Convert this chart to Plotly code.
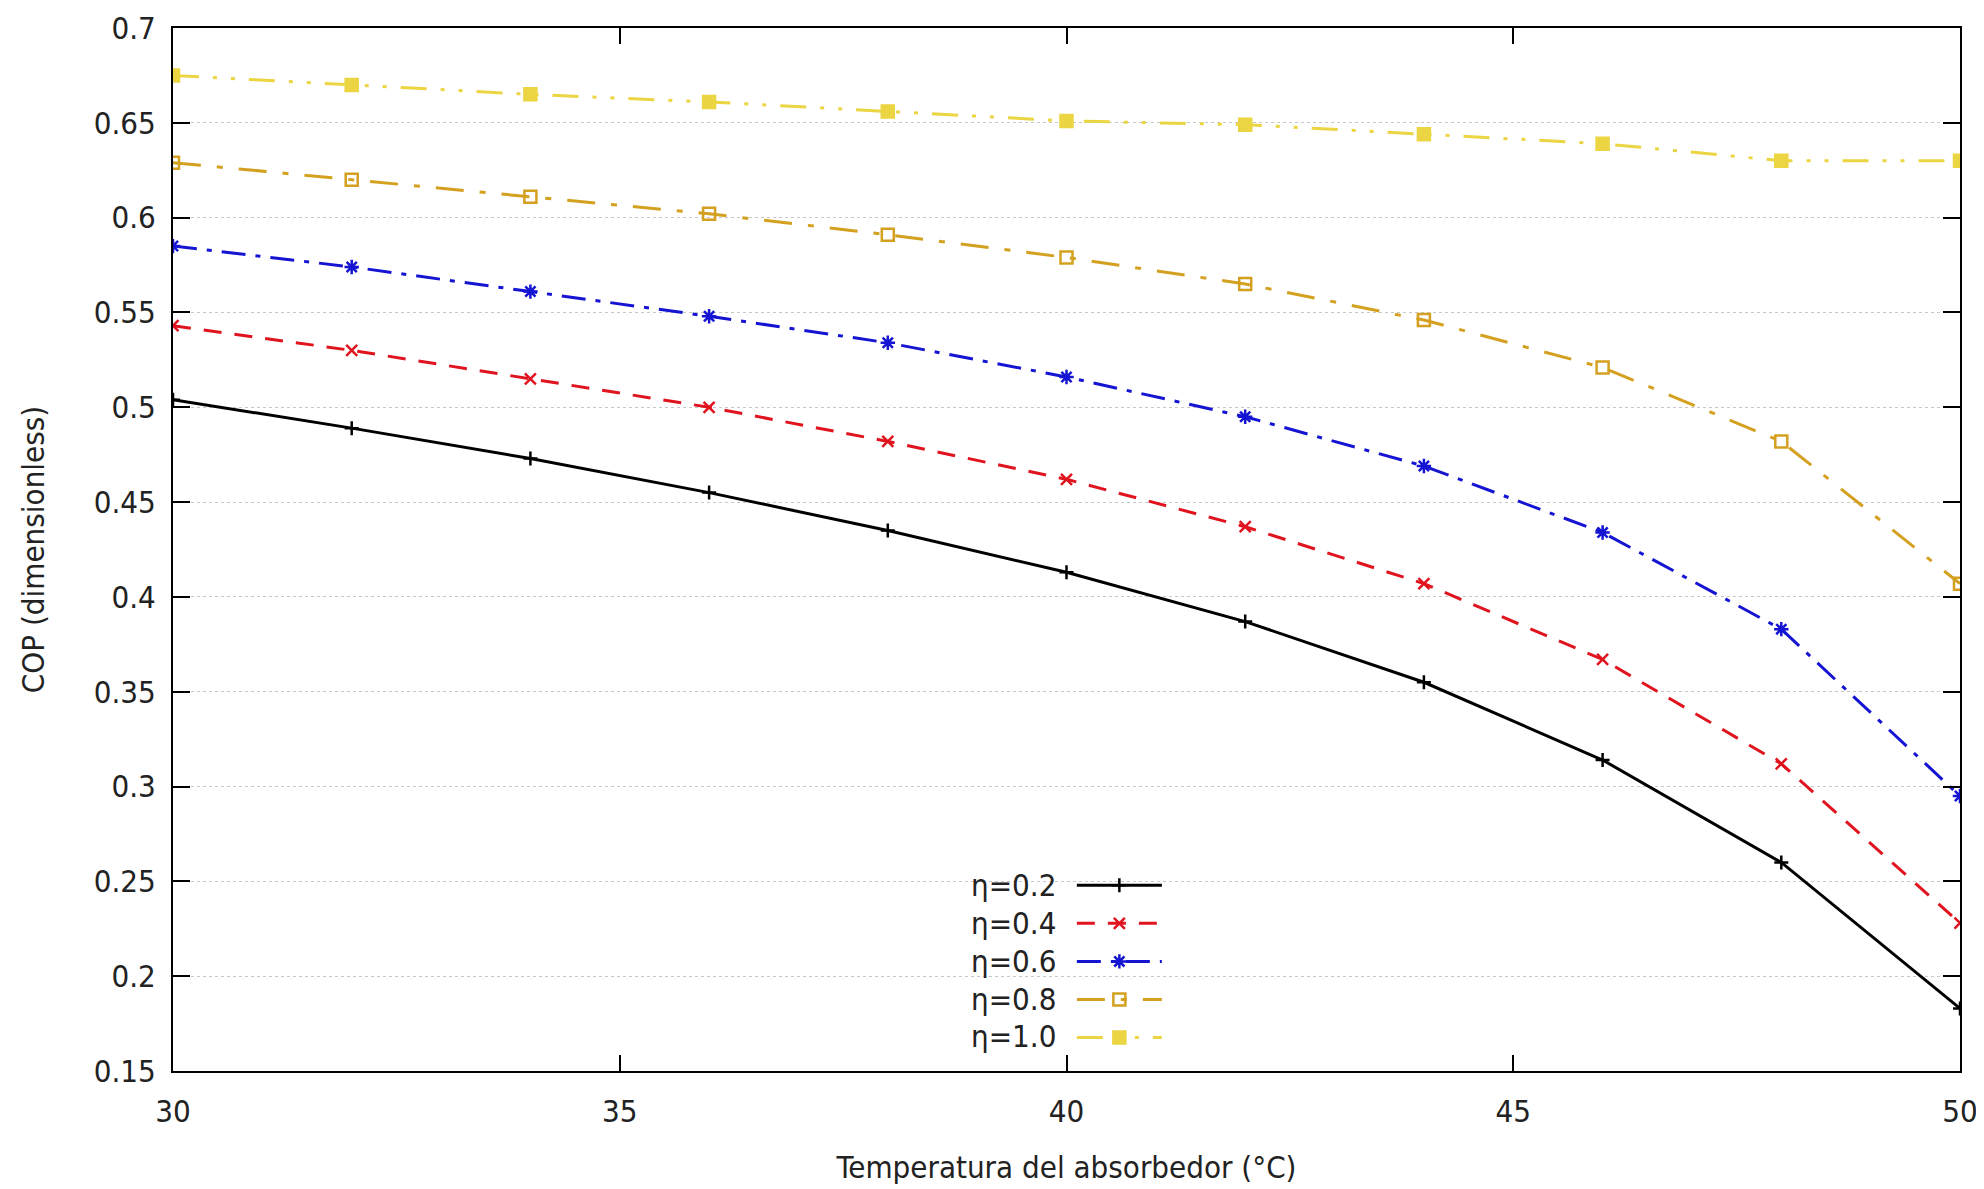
import plotly.graph_objects as go

# Absorber temperature (°C)
temp = [30, 32, 34, 36, 38, 40, 42, 44, 46, 48, 50]

# COP for each efficiency value
cop_02 = [0.504, 0.489, 0.473, 0.455, 0.435, 0.413, 0.387, 0.355, 0.314, 0.260, 0.183]
cop_04 = [0.543, 0.530, 0.515, 0.500, 0.482, 0.462, 0.437, 0.407, 0.367, 0.312, 0.228]
cop_06 = [0.585, 0.574, 0.561, 0.548, 0.534, 0.516, 0.495, 0.469, 0.434, 0.383, 0.295]
cop_08 = [0.629, 0.620, 0.611, 0.602, 0.591, 0.579, 0.565, 0.546, 0.521, 0.482, 0.407]
cop_10 = [0.675, 0.670, 0.665, 0.661, 0.656, 0.651, 0.649, 0.644, 0.639, 0.630, 0.630]

labels = ['η=0.2', 'η=0.4', 'η=0.6', 'η=0.8', 'η=1.0']

FONT = 'DejaVu Sans Condensed, DejaVu Sans, sans-serif'

styles = [
    dict(color='#000000', dash='solid', symbol='cross-thin', size=10),
    dict(color='#e0141e', dash='18px,13px', symbol='x-thin', size=11),
    dict(color='#1414d2', dash='24px,10px,5px,10px', symbol='asterisk', size=12),
    dict(color='#d4a020', dash='28px,16px,6px,16px', symbol='square-open', size=12),
    dict(color='#ecd542', dash='26px,14px,4px,14px,4px,14px', symbol='square', size=12),
]

series = [cop_02, cop_04, cop_06, cop_08, cop_10]

fig = go.Figure()

for vals, st in zip(series, styles):
    fig.add_trace(go.Scatter(
        x=temp, y=vals, mode='lines+markers', name='',
        line=dict(color=st['color'], width=3, dash=st['dash']),
        marker=dict(symbol=st['symbol'], size=st['size'], color=st['color'],
                    line=dict(color=st['color'], width=2.5)),
    ))

# gnuplot-style key: label text on the left of the line sample
for i, lab in enumerate(labels):
    fig.add_annotation(text=lab, xref='paper', yref='paper',
                       x=0.495, y=0.1780 - i * 0.0362, xanchor='right', yanchor='middle',
                       showarrow=False, font=dict(family=FONT, size=31, color='#222222'))

# page body adds an 8px offset, so the figure is slightly smaller than the window
fig.update_layout(
    width=1976, height=1181,
    margin=dict(l=165, r=24, t=20, b=118),
    plot_bgcolor='white', paper_bgcolor='white',
    font=dict(family=FONT, size=31, color='#222222'),
    showlegend=True,
    legend=dict(x=0.503, y=0.2012, xanchor='left', yanchor='top',
                bgcolor='rgba(0,0,0,0)', itemwidth=85, tracegroupgap=0,
                font=dict(family=FONT, size=27)),
    xaxis=dict(
        range=[30, 50], dtick=5, tick0=30, automargin=False,
        showgrid=False, zeroline=False,
        showline=True, linecolor='#000000', linewidth=2, mirror='ticks',
        ticks='inside', ticklen=16, tickwidth=2, tickcolor='#000000',
        ticklabelstandoff=12, ticklabeloverflow='allow',
        title=dict(text='Temperatura del absorbedor (°C)', standoff=28,
                   font=dict(family=FONT, size=31)),
    ),
    yaxis=dict(
        range=[0.15, 0.7], dtick=0.05, tick0=0.15, automargin=False,
        showgrid=True, gridcolor='#c8c8c8', gridwidth=1, griddash='dot',
        zeroline=False,
        showline=True, linecolor='#000000', linewidth=2, mirror='ticks',
        ticks='inside', ticklen=17, tickwidth=2, tickcolor='#000000',
        ticklabelstandoff=9, ticklabeloverflow='allow',
        title=dict(text='COP (dimensionless)', standoff=40,
                   font=dict(family=FONT, size=31)),
    ),
)

fig.write_html('out.html')
